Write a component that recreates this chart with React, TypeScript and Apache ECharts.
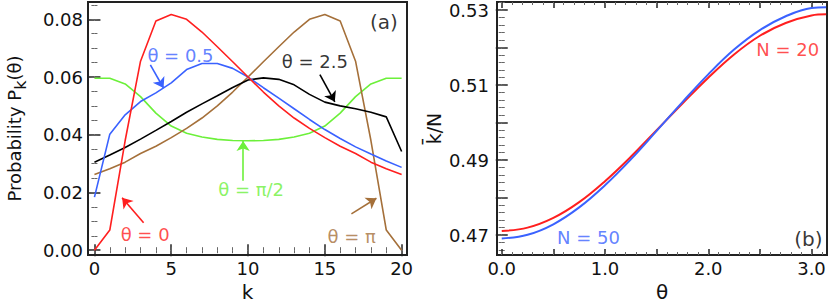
import React, { useEffect, useRef } from "react";
import * as echarts from "echarts";

// ---------- Panel (a): probability distributions, N = 20 ----------
const K = [0, 1, 2, 3, 4, 5, 6, 7, 8, 9, 10, 11, 12, 13, 14, 15, 16, 17, 18, 19, 20];
const P_THETA_0 = [0.0, 0.007, 0.038, 0.0655, 0.0794, 0.0817, 0.08, 0.0756, 0.0705, 0.0653, 0.06, 0.0548, 0.05, 0.0458, 0.0422, 0.039, 0.036, 0.0335, 0.0305, 0.0282, 0.0262];
const P_THETA_05 = [0.0184, 0.0402, 0.0469, 0.0515, 0.0545, 0.058, 0.0626, 0.0647, 0.0647, 0.063, 0.06, 0.0563, 0.0527, 0.049, 0.0453, 0.0418, 0.0387, 0.0358, 0.0333, 0.0309, 0.0287];
const P_THETA_PI2 = [0.0596, 0.0596, 0.0576, 0.0532, 0.0475, 0.043, 0.0405, 0.0392, 0.0384, 0.038, 0.0379, 0.038, 0.0384, 0.0392, 0.0405, 0.043, 0.0475, 0.0532, 0.0576, 0.0596, 0.0596];
const P_THETA_25 = [0.0305, 0.033, 0.0356, 0.0385, 0.0415, 0.0446, 0.0478, 0.0507, 0.0535, 0.0564, 0.059, 0.0597, 0.0592, 0.0573, 0.054, 0.0513, 0.05, 0.049, 0.0478, 0.0462, 0.0342];
const P_THETA_PI = [0.0262, 0.0282, 0.0305, 0.0335, 0.036, 0.039, 0.0422, 0.0458, 0.05, 0.0548, 0.06, 0.0653, 0.0705, 0.0756, 0.08, 0.0817, 0.0794, 0.0655, 0.038, 0.007, 0.0];

const K_TICK_LABELS = [0, 5, 10, 15, 20];
const P_TICK_LABELS = [0, 0.02, 0.04, 0.06, 0.08];

// ---------- Panel (b): mean position k̄/N vs θ ----------
const THETA = [0, 0.25, 0.5, 0.75, 1.0, 1.25, 1.5, 1.75, 2.0, 2.25, 2.5, 2.75, 3.0, 3.1416];
const KBAR_N20 = [0.4711, 0.472, 0.4746, 0.4788, 0.4844, 0.4909, 0.498, 0.5051, 0.512, 0.5182, 0.5232, 0.5266, 0.5286, 0.5289];
const KBAR_N50 = [0.4691, 0.4701, 0.4729, 0.4774, 0.4833, 0.4902, 0.4978, 0.5055, 0.5129, 0.5195, 0.5247, 0.5284, 0.5306, 0.5308];

const THETA_TICK_LABELS = [0, 1, 2, 3];
const KBAR_TICK_LABELS = [0.47, 0.49, 0.51, 0.53];

const RED = "#ff1f1f";
const BLUE = "#3a62ff";
const GREEN = "#6cf03a";
const BROWN = "#a5703a";
const BLACK = "#000000";
const FONT = "DejaVu Sans";
const FS = 18;

// ranges
const A_X = { min: -0.42, max: 20.35 };
const A_Y = { min: -0.0017, max: 0.086 };
const B_X = { min: -0.046, max: 3.15 };
const B_Y = { min: 0.4647, max: 0.5322 };

function steps(from: number, to: number, step: number): number[] {
  const out: number[] = [];
  const n = Math.round((to - from) / step);
  for (let i = 0; i <= n; i++) out.push(+(from + i * step).toFixed(6));
  return out;
}

function axisPair(
  grid: number,
  pos: string,
  range: { min: number; max: number },
  major: number[],
  minor: number[],
  labels: number[] | null,
  fmt: (v: number) => string,
  margin: number
) {
  const common = {
    type: "value",
    gridIndex: grid,
    position: pos,
    min: range.min,
    max: range.max,
    axisLine: { show: false },
    splitLine: { show: false },
  };
  return [
    {
      ...common,
      axisTick: { show: true, inside: true, length: 6, customValues: major, lineStyle: { color: "#222", width: 1.5 } },
      axisLabel: {
        show: !!labels,
        customValues: labels || [],
        formatter: (v: number) => fmt(v),
        fontFamily: FONT,
        fontSize: FS,
        color: "#111",
        margin,
      },
    },
    {
      ...common,
      axisTick: { show: true, inside: true, length: 3, customValues: minor, lineStyle: { color: "#666", width: 1 } },
      axisLabel: { show: false },
    },
  ];
}

function pairs(xs: number[], ys: number[]) {
  return xs.map((x, i) => [x, ys[i]]);
}

function textMark(grid: number, x: number, y: number, text: string, color: string, size = FS) {
  return {
    type: "scatter",
    xAxisIndex: grid * 4,
    yAxisIndex: grid * 4,
    symbolSize: 1,
    itemStyle: { color: "rgba(0,0,0,0)" },
    silent: true,
    z: 5,
    data: [[x, y]],
    label: {
      show: true,
      position: "inside",
      formatter: text,
      color,
      fontFamily: FONT,
      fontSize: size,
    },
  };
}

function arrow(grid: number, from: number[], to: number[], color: string) {
  return {
    type: "lines",
    coordinateSystem: "cartesian2d",
    xAxisIndex: grid * 4,
    yAxisIndex: grid * 4,
    symbol: ["none", "arrow"],
    symbolSize: 10,
    silent: true,
    z: 5,
    lineStyle: { color, width: 1.6, opacity: 1 },
    data: [{ coords: [from, to] }],
  };
}

export default function App() {
  const ref = useRef<HTMLDivElement>(null);

  useEffect(() => {
    if (!ref.current) return;
    const chart = echarts.init(ref.current, undefined, { renderer: "svg" });

    const xAxes = [
      ...axisPair(0, "bottom", A_X, K_TICK_LABELS, steps(0, 20, 1), K_TICK_LABELS, (v) => String(v), 4),
      ...axisPair(0, "top", A_X, K_TICK_LABELS, steps(0, 20, 1), null, (v) => String(v), 4),
      ...axisPair(1, "bottom", B_X, steps(0, 3, 0.5), steps(0, 3.1, 0.1), THETA_TICK_LABELS, (v) => v.toFixed(1), 4),
      ...axisPair(1, "top", B_X, steps(0, 3, 0.5), steps(0, 3.1, 0.1), null, (v) => v.toFixed(1), 4),
    ];
    const yAxes = [
      ...axisPair(0, "left", A_Y, P_TICK_LABELS, steps(0, 0.085, 0.005), P_TICK_LABELS, (v) => v.toFixed(2), 5),
      ...axisPair(0, "right", A_Y, P_TICK_LABELS, steps(0, 0.085, 0.005), null, (v) => v.toFixed(2), 5),
      ...axisPair(1, "left", B_Y, steps(0.47, 0.53, 0.01), steps(0.466, 0.532, 0.002), KBAR_TICK_LABELS, (v) => v.toFixed(2), 8),
      ...axisPair(1, "right", B_Y, steps(0.47, 0.53, 0.01), steps(0.466, 0.532, 0.002), null, (v) => v.toFixed(2), 8),
    ];

    // axis titles
    (xAxes[0] as any).name = "k";
    (xAxes[0] as any).nameLocation = "middle";
    (xAxes[0] as any).nameGap = 23;
    (xAxes[0] as any).nameTextStyle = { fontFamily: FONT, fontSize: 20, color: "#111" };
    (xAxes[4] as any).name = "θ";
    (xAxes[4] as any).nameLocation = "middle";
    (xAxes[4] as any).nameGap = 22;
    (xAxes[4] as any).nameTextStyle = { fontFamily: FONT, fontSize: 20, color: "#111" };
    (yAxes[0] as any).name = "Probability P{sub|k}(θ)";
    (yAxes[0] as any).nameLocation = "middle";
    (yAxes[0] as any).nameGap = 60;
    (yAxes[0] as any).nameTextStyle = {
      fontFamily: FONT,
      fontSize: 18,
      color: "#111",
      rich: { sub: { fontFamily: FONT, fontSize: 16, color: "#111", padding: [12, 0, 0, 0] } },
    };
    (yAxes[4] as any).name = "k\u0304/N";
    (yAxes[4] as any).nameLocation = "middle";
    (yAxes[4] as any).nameGap = 54;
    (yAxes[4] as any).nameTextStyle = { fontFamily: FONT, fontSize: 19, color: "#111" };

    const lineA = (data: number[], color: string) => ({
      type: "line",
      xAxisIndex: 0,
      yAxisIndex: 0,
      data: pairs(K, data),
      showSymbol: false,
      symbol: "none",
      lineStyle: { color, width: 1.6 },
      z: 3,
    });
    const lineB = (data: number[], color: string) => ({
      type: "line",
      xAxisIndex: 4,
      yAxisIndex: 4,
      data: pairs(THETA, data),
      showSymbol: false,
      symbol: "none",
      smooth: 0.4,
      lineStyle: { color, width: 2 },
      z: 3,
    });

    chart.setOption({
      animation: false,
      backgroundColor: "#ffffff",
      grid: [
        { left: 88, top: 2, width: 319, height: 255, show: true, borderColor: "#222", borderWidth: 2, backgroundColor: "transparent" },
        { left: 497, top: 2, width: 330, height: 253, show: true, borderColor: "#222", borderWidth: 2, backgroundColor: "transparent" },
      ],
      xAxis: xAxes,
      yAxis: yAxes,
      series: [
        lineA(P_THETA_PI2, GREEN),
        lineA(P_THETA_PI, BROWN),
        lineA(P_THETA_25, BLACK),
        lineA(P_THETA_05, BLUE),
        lineA(P_THETA_0, RED),
        lineB(KBAR_N20, RED),
        lineB(KBAR_N50, BLUE),
        // annotations, panel (a)
        textMark(0, 5.6, 0.0676, "θ = 0.5", BLUE),
        arrow(0, [3.64, 0.0642], [4.5, 0.0562], BLUE),
        textMark(0, 14.35, 0.0653, "θ = 2.5", BLACK),
        arrow(0, [14.68, 0.0608], [15.65, 0.0514], BLACK),
        textMark(0, 10.2, 0.0212, "θ = π/2", GREEN),
        arrow(0, [9.68, 0.0241], [9.68, 0.0378], GREEN),
        textMark(0, 3.3, 0.0054, "θ = 0", RED),
        arrow(0, [3.2, 0.0095], [1.8, 0.0182], RED),
        textMark(0, 16.75, 0.0046, "θ = π", BROWN),
        arrow(0, [16.73, 0.0126], [18.36, 0.018], BROWN),
        textMark(0, 18.85, 0.079, "(a)", BLACK, 20),
        // annotations, panel (b)
        textMark(1, 2.77, 0.5196, "N = 20", RED),
        textMark(1, 0.84, 0.4694, "N = 50", BLUE),
        textMark(1, 2.97, 0.4691, "(b)", BLACK, 20),
      ],
    });

    return () => chart.dispose();
  }, []);

  return (
    <div
      ref={ref}
      style={{ position: "absolute", left: 0, top: 0, width: 830, height: 307, background: "#fff" }}
    />
  );
}
